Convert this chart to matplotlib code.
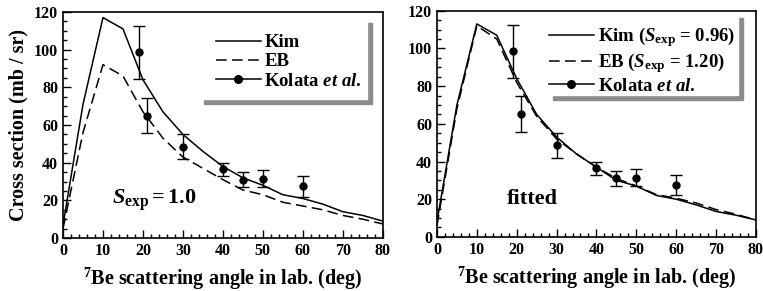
import matplotlib
matplotlib.use("Agg")
import matplotlib.pyplot as plt
from matplotlib.lines import Line2D
from matplotlib.patches import Rectangle
from matplotlib.ticker import MultipleLocator

plt.rcParams['font.family'] = ['Liberation Serif', 'DejaVu Serif']
plt.rcParams['font.weight'] = 'bold'
plt.rcParams['axes.labelweight'] = 'bold'
plt.rcParams['mathtext.fontset'] = 'custom'
plt.rcParams['mathtext.rm'] = 'Liberation Serif:bold'
plt.rcParams['mathtext.bf'] = 'Liberation Serif:bold'
plt.rcParams['mathtext.it'] = 'Liberation Serif:italic:bold'

# angles of the calculations (deg)
angle = [0, 5, 10, 15, 20, 25, 30, 35, 40, 45, 50, 55, 60, 65, 70, 75, 80]

# S_exp = 1.0
kim_1 = [7, 71, 117, 111, 84, 67, 55, 46, 38, 32, 28, 23, 21, 18, 14, 12, 9]
eb_1 = [5, 56, 92, 86, 67, 53, 43, 37, 31, 25.5, 23, 19, 17, 15, 12, 10, 7.5]

# fitted
kim_fit = [8, 70, 113, 107, 84, 65, 53, 44, 37, 30, 27, 22, 20, 17, 13.5, 11.5, 9]
eb_fit = [6, 68, 112, 105, 82, 64, 52, 44, 37, 31, 27, 22.5, 20.5, 18, 14.5, 12, 9]

# Kolata et al. data
exp_angle = [19, 21, 30, 40, 45, 50, 60]
exp_val = [98.5, 65, 48.5, 36.5, 31, 31.5, 27.5]
exp_err = [14, 9.5, 6.5, 3.5, 4, 4.5, 5.5]

fig = plt.figure(figsize=(7.63, 2.91), dpi=100)
ax1 = fig.add_axes([0.0826, 0.182, 0.419, 0.777])
ax2 = fig.add_axes([0.5727, 0.186, 0.418, 0.777])


def panel(ax, kim, eb, labels, text, text_x, box, center):
    ax.plot(angle, kim, color='black', lw=1.1)
    ax.plot(angle, eb, color='black', lw=1.1, dashes=(7, 3.5))
    ax.errorbar(exp_angle, exp_val, yerr=exp_err, fmt='o', color='black',
                ms=5, capsize=4, elinewidth=1, capthick=1)
    ax.set_xlim(0, 80)
    ax.set_ylim(0, 120)
    ax.xaxis.set_major_locator(MultipleLocator(10))
    ax.xaxis.set_minor_locator(MultipleLocator(2))
    ax.yaxis.set_major_locator(MultipleLocator(20))
    ax.yaxis.set_minor_locator(MultipleLocator(5))
    ax.tick_params(which='both', direction='in', labelsize=11.5, width=1)
    ax.tick_params(which='major', length=6)
    ax.tick_params(which='minor', length=3)
    for s in ax.spines.values():
        s.set_linewidth(1.2)
    ax.set_xlabel(r'$^{7}$Be scattering angle in lab. (deg)', fontsize=14.5,
                  labelpad=5)
    ax.text(text_x, 20, text, fontsize=16, va='center', ha='left')

    # legend box with grey shadow
    x0, y0, x1, y1 = box
    ax.add_patch(Rectangle((x0 + 0.016, y0 - 0.024), x1 - x0, y1 - y0,
                           transform=ax.transAxes, color='0.55', zorder=4))
    ax.add_patch(Rectangle((x0, y0), x1 - x0, y1 - y0,
                           transform=ax.transAxes, color='white', zorder=5))
    handles = [Line2D([], [], color='black', lw=1.1),
               Line2D([], [], color='black', lw=1.1, dashes=(7, 3.5)),
               Line2D([], [], color='black', lw=1.1, marker='o', ms=5.5)]
    leg = ax.legend(handles, labels, loc='center', bbox_to_anchor=center,
                    frameon=False, fontsize=13.5, handlelength=2.4,
                    handletextpad=0.2, labelspacing=0.12, borderpad=0)
    leg.set_zorder(6)


panel(ax1, kim_1, eb_1, ['Kim', 'EB', r'Kolata $\it{et\ al.}$'],
      r'$S_{\rm exp} = 1.0$', 12.2,
      (0.425, 0.615, 0.95, 0.975), (0.706, 0.779))
panel(ax2, kim_fit, eb_fit,
      [r'Kim ($S_{\rm exp}$ = 0.96)', r'EB ($S_{\rm exp}$ = 1.20)',
       r'Kolata $\it{et\ al.}$'],
      'fitted', 17.5,
      (0.349, 0.628, 0.944, 0.99), (0.642, 0.783))
ax1.set_ylabel('Cross section (mb / sr)', fontsize=14.5, labelpad=4)

fig.savefig('out.png', dpi=100)
